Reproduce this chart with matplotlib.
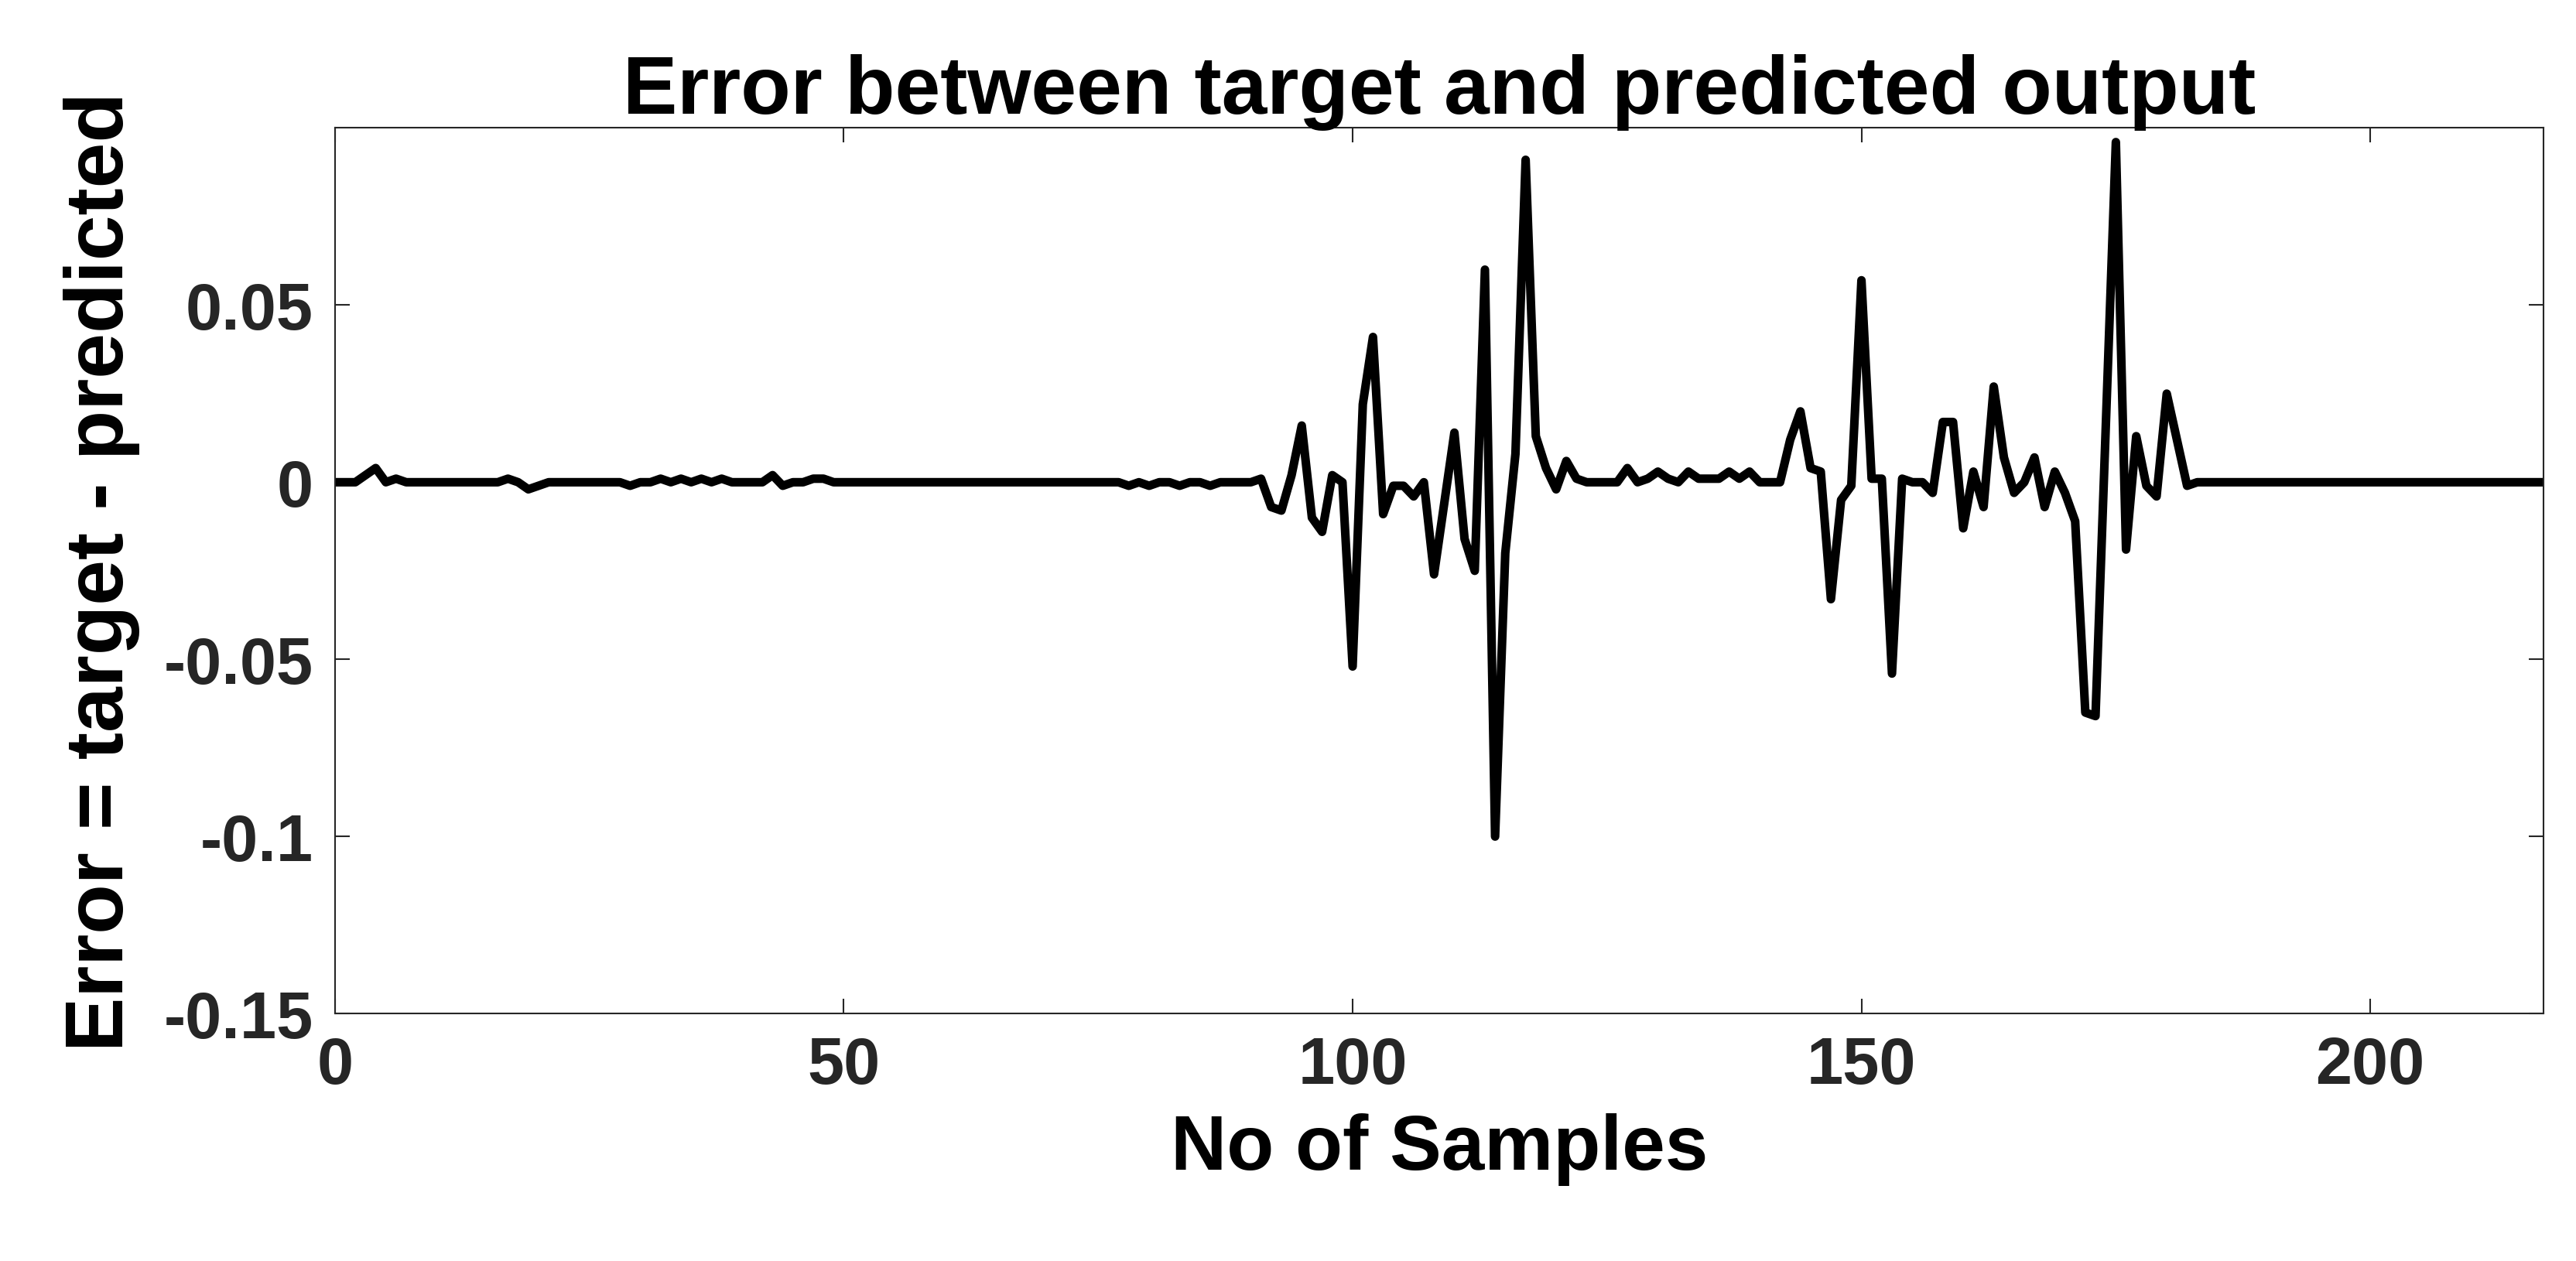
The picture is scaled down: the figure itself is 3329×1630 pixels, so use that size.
import numpy as np
import matplotlib
matplotlib.use("Agg")
import matplotlib.pyplot as plt

# error values, sample 0..89 (small wiggles)
err_start = [0, 0, 0, 0.002, 0.004, 0.0, 0.001, 0, 0, 0,
             0, 0, 0, 0, 0, 0, 0, 0.001, 0, -0.002,
             -0.001, 0, 0, 0, 0, 0, 0, 0, 0, -0.001,
             0, 0, 0.001, 0, 0.001, 0, 0.001, 0, 0.001, 0,
             0, 0, 0, 0.002, -0.001, 0, 0, 0.001, 0.001, 0,
             0, 0, 0, 0, 0, 0, 0, 0, 0, 0,
             0, 0, 0, 0, 0, 0, 0, 0, 0, 0,
             0, 0, 0, 0, 0, 0, 0, 0, -0.001, 0,
             -0.001, 0, 0, -0.001, 0, 0, -0.001, 0, 0, 0]

# samples 90..183
err_mid = [0, 0.001, -0.007, -0.008, 0.002, 0.016, -0.010, -0.014, 0.002, 0,
           -0.052, 0.022, 0.041, -0.009, -0.001, -0.001, -0.004, 0, -0.026, -0.006,
           0.014, -0.016, -0.025, 0.060, -0.100, -0.020, 0.008, 0.091, 0.013, 0.004,
           -0.002, 0.006, 0.001, 0, 0, 0, 0, 0.004, 0, 0.001,
           0.003, 0.001, 0, 0.003, 0.001, 0.001, 0.001, 0.003, 0.001, 0.003,
           0, 0, 0, 0.012, 0.020, 0.004, 0.003, -0.033, -0.005, -0.001,
           0.057, 0.001, 0.001, -0.054, 0.001, 0, 0, -0.003, 0.017, 0.017,
           -0.013, 0.003, -0.007, 0.027, 0.007, -0.003, 0, 0.007, -0.007, 0.003,
           -0.003, -0.011, -0.065, -0.066, 0.015, 0.096, -0.019, 0.013, -0.001, -0.004,
           0.025, 0.012, -0.001, 0]

# samples 184..217
err_end = [0] * 34

err = np.array(err_start + err_mid + err_end)
samples = np.arange(len(err))

plt.rcParams["font.family"] = ["Liberation Sans", "DejaVu Sans"]
plt.rcParams["font.weight"] = "bold"

fig = plt.figure(figsize=(33.3, 16.31), dpi=100)
ax = fig.add_axes([0.130, 0.196, 0.857, 0.702])
ax.plot(samples, err, color="black", linewidth=8)

ax.set_xlim(0, 217)
ax.set_ylim(-0.15, 0.1)
ax.set_xticks([0, 50, 100, 150, 200])
ax.set_yticks([-0.15, -0.1, -0.05, 0, 0.05])
ax.set_yticklabels(["-0.15", "-0.1", "-0.05", "0", "0.05"])
ax.tick_params(direction="in", length=14, width=1.5, labelsize=61, colors="#262626",
               top=True, right=True, pad=20)
for lbl in ax.get_xticklabels() + ax.get_yticklabels():
    lbl.set_fontweight("bold")
    lbl.set_color("#262626")
for s in ax.spines.values():
    s.set_linewidth(1.5)
    s.set_color("#262626")

ax.set_xlabel("No of Samples", fontsize=72, fontweight="bold", labelpad=14)
ax.set_ylabel("Error = target - predicted", fontsize=76, fontweight="bold", labelpad=22)
ax.set_title("Error between target and predicted output", fontsize=76, fontweight="bold", pad=14)

fig.savefig("out.png", dpi=100)
